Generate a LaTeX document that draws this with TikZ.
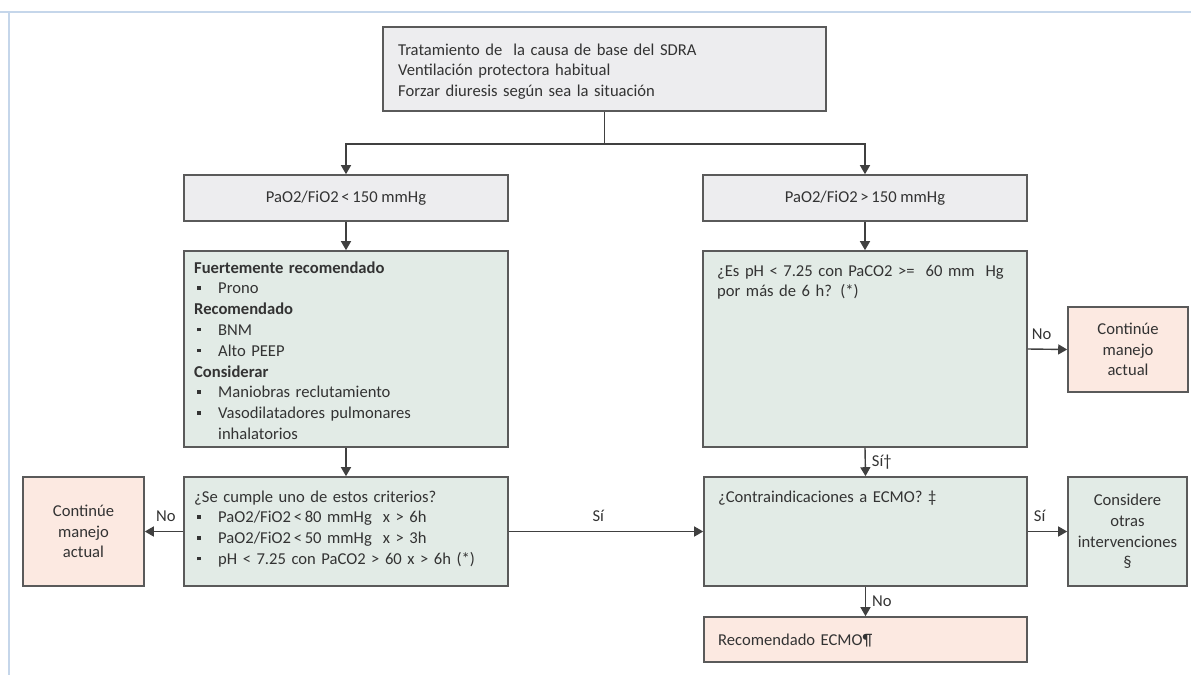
\documentclass[tikz,border=0pt]{standalone}
\usepackage{fontspec}
\setmainfont{Carlito}
\usetikzlibrary{arrows.meta}
\definecolor{boxgray}{HTML}{EDEDEF}
\definecolor{boxgreen}{HTML}{E2EBE6}
\definecolor{boxpink}{HTML}{FCE9E1}
\definecolor{edgegray}{HTML}{5A5A5A}
\definecolor{linegray}{HTML}{404040}
\definecolor{frameblue}{HTML}{C5D6EA}
\definecolor{txt}{HTML}{333333}
\newcommand\bul[1]{\hspace*{3pt}\makebox[21pt][l]{\raisebox{0.5ex}{\rule{3.6pt}{3.6pt}}}#1}
\begin{document}
\begin{tikzpicture}[x=1pt,y=-1pt,
  font=\fontsize{16.6}{20.8}\selectfont,
  frame/.style={draw=edgegray, line width=1.6pt, inner sep=0pt},
  graybox/.style={frame, fill=boxgray},
  greenbox/.style={frame, fill=boxgreen},
  pinkbox/.style={frame, fill=boxpink},
  boxtext/.style={anchor=base west, inner sep=0pt, align=left, text width=#1, text=txt},
  centertext/.style={align=center, text=txt},
  arr/.style={draw=linegray, line width=1.4pt, -{Triangle[length=9pt,width=10pt]}},
  plain/.style={draw=linegray, line width=1.4pt},
  lbl/.style={inner sep=9pt, text=txt}]
\useasboundingbox (0,0) rectangle (1191,675);
% page frame
\draw[frameblue, line width=2pt] (0,12) -- (1191,12);
\draw[frameblue, line width=2pt] (9,12) -- (9,675);

% boxes
\node[graybox, minimum width=443pt, minimum height=84pt] (top) at (604.5,69) {};
\node[boxtext=420pt] (toptext) at (398,55) {Tratamiento de \ la causa de base del SDRA\\Ventilación protectora habitual\\Forzar diuresis según sea la situación};

\node[graybox, centertext, minimum width=324pt, minimum height=46pt] (lo) at (346,198) {PaO2/FiO2\,<\,150 mmHg};
\node[graybox, centertext, minimum width=324pt, minimum height=46pt] (hi) at (865,198) {PaO2/FiO2\,>\,150 mmHg};

\node[greenbox, minimum width=324pt, minimum height=196pt] (recs) at (346,349) {};
\node[boxtext=310pt] (recstext) at (194,273) {\textbf{Fuertemente recomendado}\\\bul{Prono}\\\textbf{Recomendado}\\\bul{BNM}\\\bul{Alto PEEP}\\\textbf{Considerar}\\\bul{Maniobras reclutamiento}\\\bul{Vasodilatadores pulmonares}\\\hspace*{24pt}inhalatorios};

\node[greenbox, minimum width=324pt, minimum height=196pt] (ph) at (865,349) {};
\node[boxtext=305pt] (phtext) at (717,276) {¿Es pH < 7.25 con PaCO2 >= \ 60 mm \ Hg\\por más de 6 h? (*)};

\node[pinkbox, centertext, minimum width=120pt, minimum height=85pt] (cont1) at (1128,349.5) {Continúe\\manejo\\actual};

\node[greenbox, minimum width=324pt, minimum height=109pt] (crit) at (346,531.5) {};
\node[boxtext=310pt] (crittext) at (194,502) {¿Se cumple uno de estos criterios?\\\bul{PaO2/FiO2\,<\,80 mmHg \ x > 6h}\\\bul{PaO2/FiO2\,<\,50 mmHg \ x > 3h}\\\bul{pH < 7.25 con PaCO2 > 60 x > 6h (*)}};

\node[pinkbox, centertext, minimum width=121pt, minimum height=109pt] (cont2) at (83.5,531.5) {Continúe\\manejo\\actual};

\node[greenbox, minimum width=323pt, minimum height=109pt] (contra) at (865.5,531.5) {};
\node[boxtext=305pt] (contratext) at (718,502) {¿Contraindicaciones a ECMO? ‡};

\node[greenbox, centertext, minimum width=119pt, minimum height=109pt] (consid) at (1127.5,531.5) {Considere\\otras\\intervenciones\\§};

\node[pinkbox, minimum width=323pt, minimum height=45pt] (ecmo) at (865.5,639.5) {};
\node[boxtext=305pt] (ecmotext) at (718,645) {Recomendado ECMO¶};

% connectors
\coordinate (split) at (top.south |- 0,144);
\draw[plain] (top.south) -- (split);
\draw[arr] (split) -| (lo.north);
\draw[arr] (split) -| (hi.north);
\draw[arr] (lo.south) -- (recs.north);
\draw[arr] (hi.south) -- (ph.north);
\draw[arr] (recs.south) -- (crit.north);
\draw[arr] (ph.east) -- node[lbl, above, pos=0.35] {No} (cont1.west);
\draw[arr] (crit.west) -- node[lbl, above, pos=0.45] {No} (cont2.east);
\draw[arr] (crit.east) -- node[lbl, above, pos=0.46] {Sí} (contra.west);
\draw[arr] (contra.east) -- node[lbl, above, pos=0.3] {Sí} (consid.west);
\draw[arr] (ph.south) -- node[lbl, right, inner sep=3pt, xshift=3pt] {Sí†} (contra.north);
\draw[arr] (contra.south) -- node[lbl, right, inner sep=3pt, xshift=3pt] {No} (ecmo.north);
\end{tikzpicture}
\end{document}
